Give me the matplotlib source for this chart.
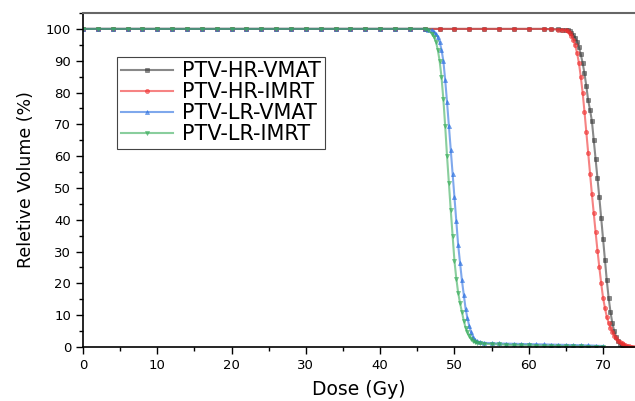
import matplotlib
matplotlib.use('Agg')
import matplotlib.pyplot as plt
from matplotlib.ticker import MultipleLocator

plt.rcParams['font.family'] = ['DejaVu Sans']

# ---- Data ----
dose_hr_vmat = [0, 2, 4, 6, 8, 10, 12, 14, 16, 18, 20, 22, 24, 26, 28, 30, 32, 34, 36, 38,
                40, 42, 44, 46, 48, 50, 52, 54, 56, 58, 60, 62, 63, 64, 64.5, 65, 65.25, 65.5,
                65.75, 66, 66.25, 66.5, 66.75, 67, 67.25, 67.5, 67.75, 68, 68.25, 68.5, 68.75,
                69, 69.25, 69.5, 69.75, 70, 70.25, 70.5, 70.75, 71, 71.25, 71.5, 71.75, 72,
                72.25, 72.5, 72.75, 73]
vol_hr_vmat = [100, 100, 100, 100, 100, 100, 100, 100, 100, 100, 100, 100, 100, 100, 100, 100,
               100, 100, 100, 100, 100, 100, 100, 100, 100, 100, 100, 100, 100, 100, 100, 100,
               99.9, 99.9, 99.8, 99.7, 99.5, 99.2, 98.7, 98, 97.2, 96, 94.3, 92, 89.3, 86,
               82, 77.5, 74.5, 71, 65, 59, 53, 47, 40.5, 34, 27.5, 21, 15.5, 11, 7.5, 5, 3.2,
               1.8, 1, 0.5, 0.2, 0]

dose_hr_imrt = [0, 2, 4, 6, 8, 10, 12, 14, 16, 18, 20, 22, 24, 26, 28, 30, 32, 34, 36, 38,
                40, 42, 44, 46, 48, 50, 52, 54, 56, 58, 60, 62, 63, 64, 64.5, 65, 65.25, 65.5,
                65.75, 66, 66.25, 66.5, 66.75, 67, 67.25, 67.5, 67.75, 68, 68.25, 68.5, 68.75,
                69, 69.25, 69.5, 69.75, 70, 70.25, 70.5, 70.75, 71, 71.25, 71.5, 71.75, 72,
                72.25, 72.5, 72.75, 73, 73.25, 73.5, 73.75, 74]
vol_hr_imrt = [100, 100, 100, 100, 100, 100, 100, 100, 100, 100, 100, 100, 100, 100, 100, 100,
               100, 100, 100, 100, 100, 100, 100, 100, 100, 100, 100, 100, 100, 100, 100, 100,
               99.9, 99.8, 99.7, 99.5, 99.2, 98.7, 97.8, 96.5, 94.8, 92.5, 89.3, 85, 80, 74,
               67.5, 61, 54.5, 48, 42, 36, 30.3, 25, 20, 15.5, 12.3, 9.5, 7.6, 6, 4.7, 3.5, 2.7,
               2, 1.5, 1.1, 0.8, 0.5, 0.35, 0.2, 0.1, 0]

dose_lr_vmat = [0, 2, 4, 6, 8, 10, 12, 14, 16, 18, 20, 22, 24, 26, 28, 30, 32, 34, 36, 38,
                40, 42, 44, 46, 46.5, 47, 47.25, 47.5, 47.75, 48, 48.25, 48.5, 48.75, 49, 49.25,
                49.5, 49.75, 50, 50.25, 50.5, 50.75, 51, 51.25, 51.5, 51.75, 52, 52.25, 52.5,
                52.75, 53, 53.5, 54, 55, 56, 57, 58, 59, 60, 61, 62, 63, 64, 65, 66, 67, 68,
                69, 70]
vol_lr_vmat = [100, 100, 100, 100, 100, 100, 100, 100, 100, 100, 100, 100, 100, 100, 100, 100,
               100, 100, 100, 100, 100, 100, 100, 100, 99.8, 99.5, 99.1, 98.5, 97.5, 96, 93.5,
               90, 84, 77, 69.5, 62, 54.5, 47, 39.5, 32, 26.5, 21, 16.5, 12, 9, 6.5, 4.6, 3,
               2.2, 1.8, 1.5, 1.3, 1.2, 1.1, 1.05, 1.0, 0.95, 0.9, 0.85, 0.8, 0.75, 0.7, 0.65,
               0.6, 0.55, 0.5, 0.4, 0.3]

dose_lr_imrt = [0, 2, 4, 6, 8, 10, 12, 14, 16, 18, 20, 22, 24, 26, 28, 30, 32, 34, 36, 38,
                40, 42, 44, 46, 46.5, 47, 47.25, 47.5, 47.75, 48, 48.25, 48.5, 48.75, 49, 49.25,
                49.5, 49.75, 50, 50.25, 50.5, 50.75, 51, 51.25, 51.5, 51.75, 52, 52.25, 52.5,
                52.75, 53, 53.5, 54, 55, 56, 57, 58, 59, 60, 61, 62, 63, 64, 65, 66, 67, 68,
                69, 70]
vol_lr_imrt = [100, 100, 100, 100, 100, 100, 100, 100, 100, 100, 100, 100, 100, 100, 100, 100,
               100, 100, 100, 100, 100, 100, 100, 100, 99.5, 98.5, 97.5, 96, 93.5, 90, 85,
               78, 69.5, 60, 51.5, 43, 35, 27, 21.5, 17, 13.8, 11, 8.3, 6, 4.6, 3.5, 2.6, 2,
               1.6, 1.3, 1.1, 1.0, 0.9, 0.8, 0.7, 0.6, 0.55, 0.5, 0.45, 0.4, 0.35, 0.3, 0.25,
               0.2, 0.18, 0.15, 0.12, 0.1]

series = [
    ('PTV-HR-VMAT', dose_hr_vmat, vol_hr_vmat, '#3a3a3a', 's'),
    ('PTV-HR-IMRT', dose_hr_imrt, vol_hr_imrt, '#f03030', 'o'),
    ('PTV-LR-VMAT', dose_lr_vmat, vol_lr_vmat, '#2a6fe0', '^'),
    ('PTV-LR-IMRT', dose_lr_imrt, vol_lr_imrt, '#3aae5c', 'v'),
]

fig = plt.figure(figsize=(6.35, 4.01), dpi=100)
ax = fig.add_axes([0.1307, 0.1347, 0.8693, 0.8329])

for label, d, v, c, m in series:
    ax.plot(d, v, color=c, alpha=0.6, linewidth=1.5, label=label,
            marker=m, markersize=3, markerfacecolor=c, markeredgecolor=c,
            markeredgewidth=0.5)

ax.set_xlim(0, 74.3)
ax.set_ylim(0, 105)
ax.xaxis.set_major_locator(MultipleLocator(10))
ax.xaxis.set_minor_locator(MultipleLocator(5))
ax.yaxis.set_major_locator(MultipleLocator(10))
ax.yaxis.set_minor_locator(MultipleLocator(5))
ax.tick_params(which='major', direction='out', length=5, width=1, labelsize=9.5)
ax.tick_params(which='minor', direction='out', length=3, width=1)

ax.spines['right'].set_visible(False)
ax.spines['top'].set_color('#666666')
ax.spines['top'].set_linewidth(1.5)
ax.spines['left'].set_linewidth(1.2)
ax.spines['bottom'].set_linewidth(1.2)

ax.set_xlabel('Dose (Gy)', fontsize=13.5, labelpad=6)
ax.set_ylabel('Reletive Volume (%)', fontsize=12.5, labelpad=8)

leg = ax.legend(loc='upper left', bbox_to_anchor=(0.0616, 0.868), fontsize=15,
                fancybox=False, edgecolor='#444444', framealpha=1,
                handlelength=2.5, handletextpad=0.4, labelspacing=0.05,
                borderpad=0.2, borderaxespad=0)
leg.get_frame().set_linewidth(0.8)
for h in leg.legend_handles:
    h.set_alpha(0.6)

fig.savefig('out.png', dpi=100)
